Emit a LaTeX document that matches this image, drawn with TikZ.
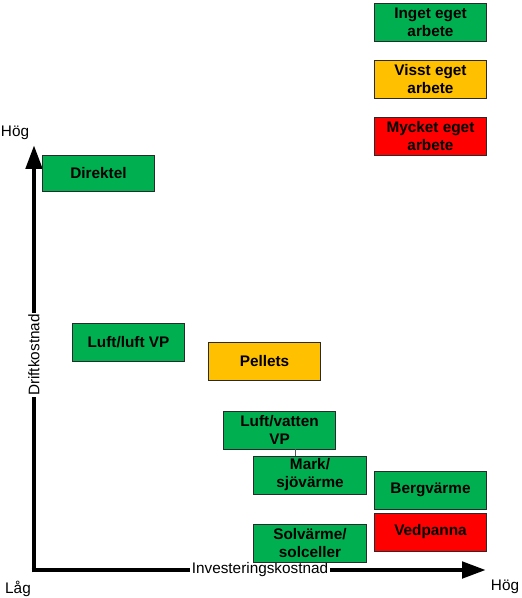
\documentclass[tikz,border=0pt]{standalone}
\usepackage{fontspec}
\setmainfont{Liberation Sans}
\usetikzlibrary{arrows.meta,positioning}
\definecolor{HCGreen}{HTML}{00B050}
\definecolor{HCAmber}{HTML}{FFC000}
\definecolor{HCRed}{HTML}{FF0000}
\definecolor{HCEdge}{HTML}{2A2A2A}
\definecolor{HCLink}{HTML}{555555}
\tikzset{
  axis/.style={-{Triangle[length=18pt,width=12pt]},black,line width=3.6pt},
  card/.style={draw=HCEdge,line width=0.6pt,fill=HCGreen,text=black,align=center,
               minimum width=84.5pt,minimum height=28.5pt,inner sep=0pt,
               font=\fontsize{11.5}{13.5}\selectfont\bfseries},
  cardamber/.style={card,fill=HCAmber},
  cardred/.style={card,fill=HCRed},
  link/.style={HCLink,line width=0.6pt},
  label/.style={text=black,font=\fontsize{11.5}{13.5}\selectfont,inner sep=1pt},
}

\begin{document}
\begin{tikzpicture}[x=0.75pt,y=-0.75pt]
    \useasboundingbox (0,0) rectangle (521,598);

    % legend
    \node[card] (inget) at (430.5,22) {Inget eget\\arbete};
    \node[cardamber] (visst) at (430.5,79) {Visst eget\\arbete};
    \node[cardred] (mycket) at (430.5,136) {Mycket eget\\arbete};

    % axes
    \coordinate (origin) at (34,570);
    \coordinate (ytip) at (34,145);
    \coordinate (xtip) at (486,570);
    \draw[axis] ([yshift=-1.8pt]origin) -- (ytip);
    \draw[axis] ([xshift=-1.8pt]origin) -- (xtip);
    \node[label,fill=white,rotate=90] (drift) at (34,355) {Driftkostnad};
    \node[label,fill=white] (invest) at (260,570) {Investeringskostnad};
    \node[label] (hogy) at (15,133) {Hög};
    \node[label] (lag) at (18,589) {Låg};
    \node[label] (hogx) at (505,587) {Hög};

    % heating types
    \node[card,minimum height=27pt] (direktel) at (98.5,173) {Direktel};
    \node[card] (luftluft) at (128.5,342.5) {Luft/luft VP};
    \node[cardamber] (pellets) at (264.5,361.5) {Pellets};
    \node[card] (luftvatten) at (279.5,430) {Luft/vatten\\VP};
    \node[card] (mark) at (310,475) {Mark/\\sjövärme};
    \node[card] (berg) at (430.5,490) {Bergvärme};
    \node[cardred] (ved) at (430.5,532) {Vedpanna};
    \node[card] (sol) at (310,543) {Solvärme/\\solceller};

    \draw[link] ([xshift=11.6pt]luftvatten.south) -- ([xshift=11.6pt]luftvatten.south |- mark.north);
\end{tikzpicture}
\end{document}
